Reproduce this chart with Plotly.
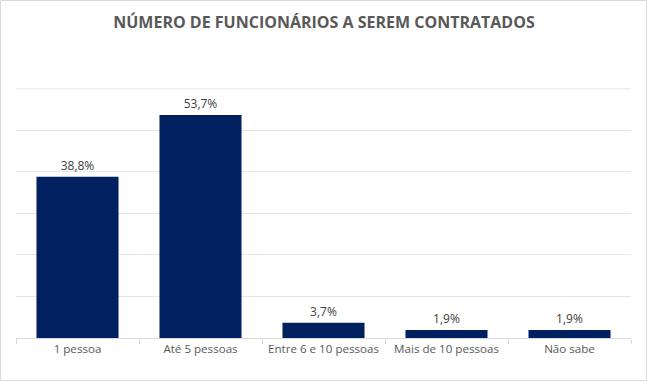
import plotly.graph_objects as go

categories = ["1 pessoa", "Até 5 pessoas", "Entre 6 e 10 pessoas", "Mais de 10 pessoas", "Não sabe"]
values = [38.8, 53.7, 3.7, 1.9, 1.9]
labels = [f"{v:.1f}%".replace(".", ",") for v in values]
y_max = 60

W, H = 648, 382
ml, mr, mt, mb = 16, 17, 88, 44
pw, ph = W - ml - mr, H - mt - mb

fig = go.Figure(go.Bar(
    x=categories, y=values, text=labels, textposition="outside",
    textfont=dict(family="Open Sans, sans-serif", size=12, color="#404040"),
    marker=dict(color="#002060", line=dict(width=0)),
    width=0.667, cliponaxis=False,
))

fig.update_layout(
    width=W, height=H, margin=dict(l=ml, r=mr, t=mt, b=mb),
    paper_bgcolor="white", plot_bgcolor="white",
    title=dict(text="<b>NÚMERO DE FUNCIONÁRIOS A SEREM CONTRATADOS</b>",
               x=0.5, xanchor="center", y=1 - 22 / H, yanchor="middle",
               font=dict(family="Open Sans, sans-serif", size=16, color="#595959")),
    showlegend=False,
    xaxis=dict(showgrid=False, showline=True, linecolor="#d9d9d9", linewidth=1,
               ticks="outside", ticklen=5, tickcolor="#d9d9d9", tickson="boundaries",
               tickfont=dict(family="Open Sans, sans-serif", size=11.6, color="#595959")),
    yaxis=dict(range=[0, y_max + 0.2], dtick=10, tick0=0, showgrid=True, gridcolor="#e6e6e6",
               showticklabels=False, zeroline=False, showline=False),
    shapes=[
        dict(type="line", xref="paper", yref="y", x0=0, x1=1, y0=y_max, y1=y_max,
             line=dict(color="#e6e6e6", width=1), layer="below"),
        dict(type="rect", xref="paper", yref="paper",
             x0=-(ml - 0.5) / pw, x1=1 + (mr - 1.5) / pw,
             y0=-(mb - 1.5) / ph, y1=1 + (mt - 0.5) / ph,
             line=dict(color="#d9d9d9", width=1)),
    ],
)

fig.write_html("out.html", config={"displayModeBar": False},
               post_script="document.body.style.margin='0';document.body.style.overflow='hidden';")
